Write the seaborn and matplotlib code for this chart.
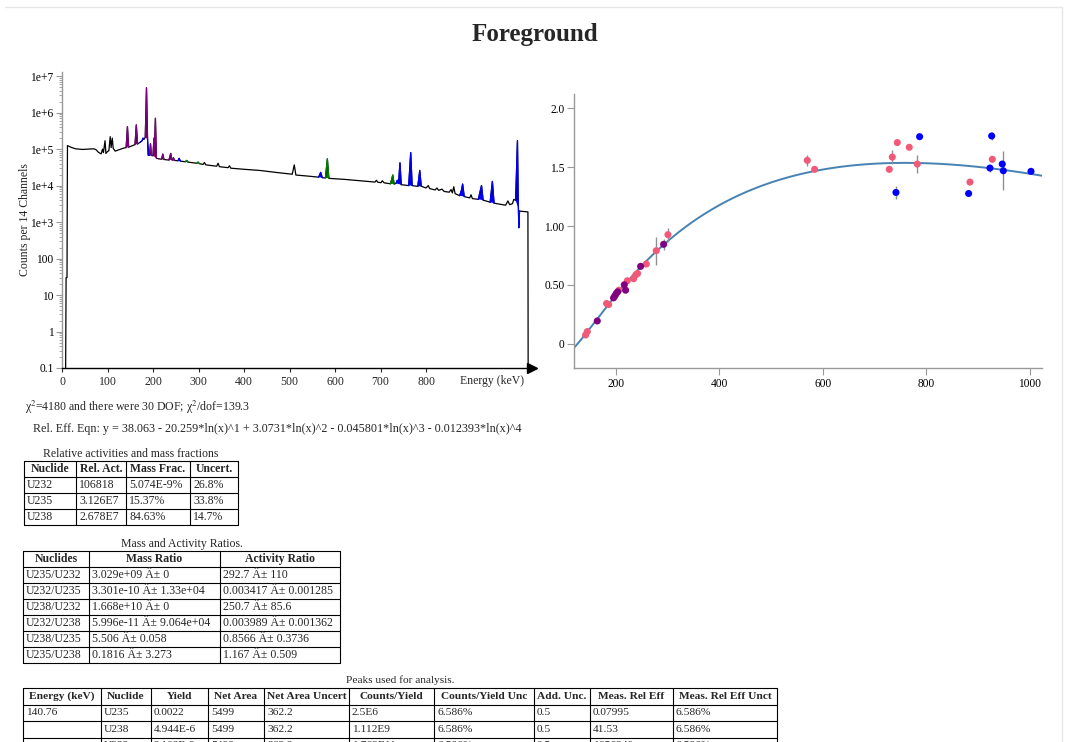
import numpy as np
import pandas as pd
import matplotlib
matplotlib.use('Agg')
import matplotlib.pyplot as plt
import seaborn as sns
from matplotlib.lines import Line2D

# ---- spectrum (energy in keV, counts per 14 channels)
spec_energy = [8, 9, 11, 12, 20, 30, 45, 60, 70, 75, 80, 86, 89, 91, 94.6, 96.5, 100, 103, 106, 108,
               110.5, 112.5, 117, 125, 135, 141, 143.8, 146.5, 155, 160.5, 163.3, 166, 172, 176, 178,
               180, 183, 185.7, 188, 189.5, 192.5, 194.5, 196.5, 200, 202.1, 203.5, 205.3, 207.5, 213,
               219, 221.5, 224, 235, 239, 241.5, 243.5, 245, 247, 255, 257.5, 260, 271, 274, 277, 296,
               299, 302, 310, 313, 316, 340, 343, 346, 365, 368, 371, 400, 435, 470, 506, 510.5, 514,
               545, 564, 568.5, 572, 579, 583.2, 586.5, 621, 659, 688, 691, 694, 701, 704, 708, 722,
               727, 730, 734, 737, 740, 742.8, 745.5, 762, 766.4, 769.5, 782, 786.3, 789.5, 800, 805,
               808, 820, 824, 828, 835, 840, 851, 855, 858, 861, 864, 874, 878, 880.5, 884, 896, 899,
               902, 915, 919, 922, 925.5, 941, 945.9, 949.5, 975, 980, 984, 990, 993, 997, 1001,
               1002.5, 1004, 1005.5, 1024, 1024.5]
spec_counts = [0.1, 30, 30, 1.25e5, 1.12e5, 1.02e5, 9.8e4, 1.0e5, 1.02e5, 9.6e4, 8.2e4, 7.4e4, 1.0e5,
               8.0e4, 1.7e5, 7.6e4, 8.6e4, 9.0e4, 2.2e5, 1.1e5, 2.0e5, 1.05e5, 8.8e4, 9.6e4, 1.06e5,
               1.1e5, 4.1e5, 1.13e5, 1.25e5, 1.33e5, 4.6e5, 1.38e5, 1.55e5, 1.7e5, 2.0e5, 1.85e5,
               2.1e5, 4.8e6, 1.9e5, 6.8e4, 6.8e4, 1.4e5, 6.7e4, 6.6e4, 2.0e5, 1.2e5, 7.0e5, 5.6e4,
               5.4e4, 5.3e4, 7.3e4, 5.2e4, 5.0e4, 7.6e4, 5.1e4, 5.0e4, 5.8e4, 4.9e4, 4.8e4, 5.6e4,
               4.7e4, 4.5e4, 4.9e4, 4.4e4, 4.1e4, 4.4e4, 4.0e4, 3.8e4, 4.3e4, 3.7e4, 3.4e4, 4.1e4,
               3.3e4, 3.1e4, 3.5e4, 3.0e4, 2.8e4, 2.6e4, 2.3e4, 2.05e4, 3.7e4, 1.95e4, 1.8e4, 1.7e4,
               2.3e4, 1.65e4, 1.62e4, 5.4e4, 1.58e4, 1.48e4, 1.35e4, 1.25e4, 1.4e4, 1.24e4, 1.2e4,
               1.36e4, 1.19e4, 1.12e4, 1.95e4, 1.1e4, 1.15e4, 1.4e4, 1.3e4, 4.2e4, 1.06e4, 1.0e4,
               8.0e4, 1.0e4, 9.5e3, 2.6e4, 9.6e3, 8.6e3, 1.0e4, 8.3e3, 7.6e3, 8.6e3, 7.4e3, 8.0e3,
               6.9e3, 6.6e3, 7.8e3, 6.3e3, 9.3e3, 6.0e3, 5.3e3, 7.5e3, 1.1e4, 5.0e3, 4.6e3, 5.6e3,
               4.4e3, 4.2e3, 7.0e3, 1.0e4, 4.0e3, 3.5e3, 1.3e4, 3.3e3, 2.9e3, 3.8e3, 3.0e3, 3.2e3,
               4.2e3, 3.9e3, 1.7e5, 5.5e3, 7.0e2, 2.0e3, 1.9e3, 0.1]

# peak regions drawn in colour (lo keV, hi keV, colour)
peak_lo = [140.5, 160, 182.5, 192.5, 200, 219, 235, 243.5,
           172, 188, 255, 564, 734, 762, 782, 874, 915, 941, 997,
           271, 296, 579, 722]
peak_hi = [147, 166.5, 188.5, 196.5, 207.5, 224, 241.5, 247,
           180, 192.5, 260, 572, 745.5, 769.5, 789.5, 884, 925.5, 949.5, 1005.5,
           277, 302, 586.5, 730]
peak_color = ['purple'] * 8 + ['blue'] * 11 + ['green'] * 4

# ---- relative efficiency points
eff_energy = [141.3, 144.6, 181.9, 185.8, 205.8, 221.9, 234.1, 238.6, 241.8, 258.6, 277.9, 300.4,
              569.7, 583.8, 728.1, 733.9, 743.6, 766.7, 782.2, 884.0, 927.1,
              163.9, 195.4, 198.0, 200.6, 203.2, 216.1, 218.6, 247.6, 292.1,
              741.0, 786.7, 881.4, 922.6, 925.9, 946.4, 948.4, 1001.9]
eff_value = [0.076, 0.105, 0.343, 0.334, 0.456, 0.536, 0.553, 0.587, 0.598, 0.678, 0.791, 0.927,
             1.557, 1.481, 1.481, 1.585, 1.708, 1.668, 1.526, 1.373, 1.566,
             0.195, 0.391, 0.408, 0.428, 0.442, 0.502, 0.456, 0.658, 0.845,
             1.285, 1.758, 1.276, 1.492, 1.764, 1.526, 1.469, 1.464]
eff_err = [0.01, 0.01, 0.01, 0.01, 0.01, 0.01, 0.02, 0.01, 0.01, 0.01, 0.12, 0.06,
           0.045, 0.01, 0.01, 0.06, 0.01, 0.01, 0.08, 0.015, 0.02,
           0.01, 0.01, 0.01, 0.01, 0.01, 0.01, 0.01, 0.01, 0.047,
           0.055, 0.01, 0.01, 0.03, 0.035, 0.01, 0.165, 0.01]
eff_group = ['pink'] * 21 + ['purple'] * 9 + ['blue'] * 8

# fit: y = sum c_i * ln(x)^i
fit_coef = [38.063, -20.259, 3.0731, -0.045801, -0.012393]

# ---- text / tables
chi_text = 'χ$^2$=4180 and there were 30 DOF; χ$^2$/dof=139.3'
eqn_text = ('Rel. Eff. Eqn: y = 38.063 - 20.259*ln(x)^1 + 3.0731*ln(x)^2 - 0.045801*ln(x)^3'
            ' - 0.012393*ln(x)^4')

t1_header = ['Nuclide', 'Rel. Act.', 'Mass Frac.', 'Uncert.']
t1_rows = [['U232', '106818', '5.074E-9%', '26.8%'],
           ['U235', '3.126E7', '15.37%', '33.8%'],
           ['U238', '2.678E7', '84.63%', '14.7%']]

t2_header = ['Nuclides', 'Mass Ratio', 'Activity Ratio']
t2_rows = [['U235/U232', '3.029e+09 Â± 0', '292.7 Â± 110'],
           ['U232/U235', '3.301e-10 Â± 1.33e+04', '0.003417 Â± 0.001285'],
           ['U238/U232', '1.668e+10 Â± 0', '250.7 Â± 85.6'],
           ['U232/U238', '5.996e-11 Â± 9.064e+04', '0.003989 Â± 0.001362'],
           ['U238/U235', '5.506 Â± 0.058', '0.8566 Â± 0.3736'],
           ['U235/U238', '0.1816 Â± 3.273', '1.167 Â± 0.509']]

t3_header = ['Energy (keV)', 'Nuclide', 'Yield', 'Net Area', 'Net Area Uncert', 'Counts/Yield',
             'Counts/Yield Unc', 'Add. Unc.', 'Meas. Rel Eff', 'Meas. Rel Eff Unct']
t3_rows = [['140.76', 'U235', '0.0022', '5499', '362.2', '2.5E6', '6.586%', '0.5', '0.07995', '6.586%'],
           ['', 'U238', '4.944E-6', '5499', '362.2', '1.112E9', '6.586%', '0.5', '41.53', '6.586%'],
           ['', 'U232', '2.108E-9', '5499', '362.2', '1.769E11', '6.586%', '0.5', '1656240', '6.586%']]

# ---------------------------------------------------------------------------
sns.set_style('ticks')
plt.rcParams['font.family'] = ['Liberation Serif', 'DejaVu Serif']
plt.rcParams['mathtext.fontset'] = 'stix'

W, H = 1065, 742
fig = plt.figure(figsize=(W / 100, H / 100), dpi=100)


def box(x0, y0, x1, y1):
    return [x0 / W, 1 - y1 / H, (x1 - x0) / W, (y1 - y0) / H]


def hline(x0, x1, y, **kw):
    fig.add_artist(Line2D([x0 / W, x1 / W], [1 - y / H, 1 - y / H], transform=fig.transFigure, **kw))


def vline(x, y0, y1, **kw):
    fig.add_artist(Line2D([x / W, x / W], [1 - y0 / H, 1 - y1 / H], transform=fig.transFigure, **kw))


# page frame
hline(5, 1062, 7, color='#e6e6e6', lw=1)
vline(1062, 7, 742, color='#e6e6e6', lw=1)

fig.text(535 / W, 1 - 34 / H, 'Foreground', ha='center', va='center', fontsize=18, fontweight='bold')

# ---- spectrum
spec = pd.DataFrame({'energy': spec_energy, 'counts': spec_counts})
ax1 = fig.add_axes(box(62, 72, 62 + 1030 * 0.455, 368))
sns.lineplot(data=spec, x='energy', y='counts', ax=ax1, color='black', lw=0.9,
             estimator=None, sort=False)
colors = {'purple': '#800080', 'blue': '#0000ff', 'green': '#008000'}
e = spec['energy'].values
c = spec['counts'].values
for lo, hi, col in zip(peak_lo, peak_hi, peak_color):
    m = (e >= lo) & (e <= hi)
    ax1.fill(e[m], c[m], color=colors[col], lw=0)
    ax1.plot(e[m], c[m], color=colors[col], lw=0.9)
ax1.set_yscale('log')
ax1.set_xlim(0, 1030)
ax1.set_ylim(0.1, 1.3e7)
ax1.set_xlabel('')
ax1.set_ylabel('')
ax1.set_yticks([0.1, 1, 10, 100, 1e3, 1e4, 1e5, 1e6, 1e7])
ax1.set_yticklabels(['0.1', '1', '10', '100', '1e+3', '1e+4', '1e+5', '1e+6', '1e+7'])
ax1.set_xticks(range(0, 900, 100))
ax1.set_xticklabels([str(v) for v in range(0, 900, 100)])
sns.despine(ax=ax1)
ax1.spines['left'].set_color('#999999')
ax1.spines['bottom'].set_color('black')
ax1.spines['left'].set_linewidth(1)
ax1.spines['bottom'].set_linewidth(1)
ax1.tick_params(axis='y', which='both', colors='#999999', labelcolor='black', labelsize=8.3, pad=2)
ax1.tick_params(axis='y', which='major', length=4)
ax1.tick_params(axis='y', which='minor', length=2)
ax1.tick_params(axis='x', length=3, labelsize=8.5, pad=3)
ax1.plot([1.003], [0], marker='>', color='black', ms=7, transform=ax1.transAxes, clip_on=False)

fig.text(25 / W, 1 - 220 / H, 'Counts per 14 Channels', rotation=90, ha='center', va='center',
         fontsize=8.5)
fig.text(492 / W, 1 - 381 / H, 'Energy (keV)', ha='center', va='center', fontsize=8.5)

# ---- relative efficiency
eff = pd.DataFrame({'energy': eff_energy, 'eff': eff_value, 'err': eff_err, 'group': eff_group})
ax2 = fig.add_axes(box(574.3, 94, 1041.7, 368))
xs = np.linspace(119.5, 1022.6, 400)
ys = sum(cf * np.log(xs) ** i for i, cf in enumerate(fit_coef))
sns.lineplot(x=xs, y=ys, ax=ax2, color='#4682b4', lw=1.4)
ax2.errorbar(eff['energy'], eff['eff'], yerr=eff['err'], fmt='none', ecolor='#909090', elinewidth=1)
sns.scatterplot(data=eff, x='energy', y='eff', hue='group', ax=ax2, s=26, linewidth=0, legend=False,
                palette={'pink': '#f05a78', 'purple': '#800080', 'blue': '#0000ff'}, zorder=3)
ax2.set_xlim(119.5, 1022.6)
ax2.set_ylim(-0.204, 2.12)
ax2.set_xlabel('')
ax2.set_ylabel('')
ax2.set_yticks([0, 0.5, 1.0, 1.5, 2.0])
ax2.set_yticklabels(['0', '0.50', '1.00', '1.5', '2.0'])
ax2.set_xticks([200, 400, 600, 800, 1000])
sns.despine(ax=ax2)
for s in ['left', 'bottom']:
    ax2.spines[s].set_color('#999999')
    ax2.spines[s].set_linewidth(1)
ax2.tick_params(colors='#999999', labelcolor='black', labelsize=8.3, length=5, pad=2)

# ---- text lines
fig.text(25 / W, 1 - 407 / H, chi_text, ha='left', va='center', fontsize=8.6)
fig.text(33 / W, 1 - 429 / H, eqn_text, ha='left', va='center', fontsize=8.7)


def draw_table(edges, top, row_h, header, rows, caption, cap_y, fs=8.5):
    n = len(rows) + 1
    bottom = top + n * row_h
    fig.text((edges[0] + edges[-1]) / 2 / W, 1 - cap_y / H, caption, ha='center', va='center',
             fontsize=fs)
    for x in edges:
        vline(x, top, bottom, color='black', lw=0.8)
    for i in range(n + 1):
        hline(edges[0], edges[-1], top + i * row_h, color='black', lw=0.8)
    for j, txt in enumerate(header):
        fig.text((edges[j] + edges[j + 1]) / 2 / W, 1 - (top + row_h / 2) / H, txt,
                 ha='center', va='center', fontsize=fs, fontweight='bold')
    for i, row in enumerate(rows):
        yc = top + (i + 1.5) * row_h
        for j, txt in enumerate(row):
            fig.text((edges[j] + 3) / W, 1 - yc / H, txt, ha='left', va='center', fontsize=fs)


draw_table([24, 76, 126, 190, 238], 461, 16, t1_header, t1_rows,
           'Relative activities and mass fractions', 454)
draw_table([23, 89, 220, 340], 551, 16, t2_header, t2_rows, 'Mass and Activity Ratios.', 544)
draw_table([23, 101, 151, 208, 264, 349, 434, 534, 590, 673, 777], 688, 16.5, t3_header, t3_rows,
           'Peaks used for analysis.', 680, fs=8.2)

fig.savefig('out.png', dpi=100)
